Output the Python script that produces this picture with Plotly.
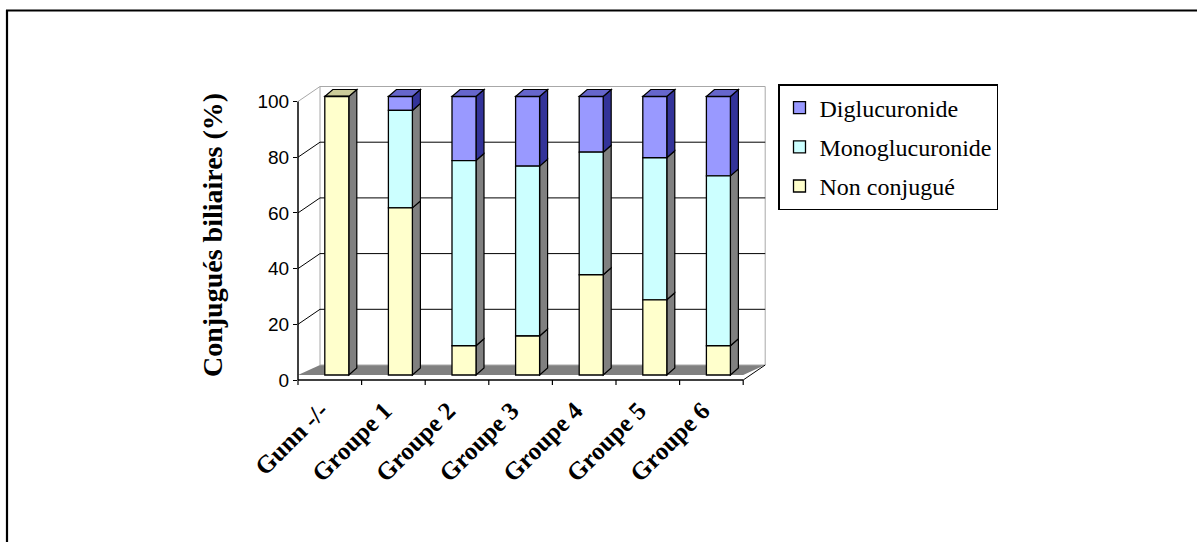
import plotly.graph_objects as go

# ---- data -------------------------------------------------------------
categories = ["Gunn -/-", "Groupe 1", "Groupe 2", "Groupe 3", "Groupe 4", "Groupe 5", "Groupe 6"]
non_conjugue = [100, 60, 10.5, 14, 36, 27, 10.5]
monoglucuronide = [0, 35, 66.5, 61, 44, 51, 61]
diglucuronide = [0, 5, 23, 25, 20, 22, 28.5]
y_ticks = [0, 20, 40, 60, 80, 100]

# series from bottom of the stack to the top: name, values, front, side, top colours
series = [
    ("Non conjugué", non_conjugue, "#FFFFCC", "#808080", "#CCCC99"),
    ("Monoglucuronide", monoglucuronide, "#CCFFFF", "#808080", "#99CCCC"),
    ("Diglucuronide", diglucuronide, "#9999FF", "#333399", "#6666CC"),
]

SERIF = "Liberation Serif, Times New Roman, serif"
SANS = "Liberation Sans, Arial, sans-serif"

# ---- page / plot-area geometry (pixels) -------------------------------
FIG_W, FIG_H = 1197, 542
PLOT_L, PLOT_R, PLOT_T, PLOT_B = 298, 766, 84, 380
CAT_PX = 63.6      # pixels per category on the front axis
PCT_PX = 2.785     # pixels per percent on the front axis

XMIN = -0.5
XMAX = XMIN + (PLOT_R - PLOT_L) / CAT_PX
YMAX = (PLOT_B - PLOT_T) / PCT_PX
N = len(categories)

# pseudo-3D depth, expressed in axis units
WALL_DX, WALL_DY = 22 / CAT_PX, 15 / PCT_PX      # front plane -> back wall
BAR_DX0, BAR_DY0 = 7 / CAT_PX, 5 / PCT_PX        # front plane -> bar faces
BAR_DEPTH_X, BAR_DEPTH_Y = 8 / CAT_PX, 7 / PCT_PX
BAR_W = 24 / CAT_PX


def xp(v):
    """axis x -> paper x"""
    return (v - XMIN) / (XMAX - XMIN)


def yp(v):
    """axis y -> paper y"""
    return v / YMAX


def px_x(p):
    return (p - PLOT_L) / (PLOT_R - PLOT_L)


def px_y(p):
    return (PLOT_B - p) / (PLOT_B - PLOT_T)


def poly(points, fill, line_color="black", line_width=1.0, layer="below"):
    path = "M " + " L ".join(f"{x:.5f},{y:.5f}" for x, y in points) + " Z"
    return dict(type="path", xref="x", yref="y", path=path, fillcolor=fill,
                line=dict(color=line_color, width=line_width), layer=layer)


def seg(x0, y0, x1, y1, color="black", width=1.0, xref="x", yref="y", layer="below"):
    return dict(type="line", xref=xref, yref=yref, x0=x0, y0=y0, x1=x1, y1=y1,
                line=dict(color=color, width=width), layer=layer)


shapes = []
left, right = -0.5, N - 0.5

# floor
shapes.append(poly([(left, BAR_DY0), (left + WALL_DX, WALL_DY),
                    (right + WALL_DX, WALL_DY), (right, BAR_DY0)],
                   "#808080", line_color="rgba(0,0,0,0)", line_width=0))
# back wall
shapes.append(poly([(left + WALL_DX, WALL_DY), (left + WALL_DX, 100 + WALL_DY),
                    (right + WALL_DX, 100 + WALL_DY), (right + WALL_DX, WALL_DY)],
                   "white", line_color="#A8A8A8", line_width=1))
# gridlines on back wall and side wall
for v in y_ticks[1:]:
    col = "#A8A8A8" if v == 100 else "black"
    shapes.append(seg(left, v, left + WALL_DX, v + WALL_DY, color=col))
    if v < 100:
        shapes.append(seg(left + WALL_DX, v + WALL_DY, right + WALL_DX, v + WALL_DY))
# right edge of the floor
shapes.append(seg(right, 0, right + WALL_DX, WALL_DY))

# side and top faces of every bar segment
for i in range(N):
    x1 = i + BAR_DX0 + BAR_W / 2
    x0 = i + BAR_DX0 - BAR_W / 2
    cum = 0.0
    visible = [(s, s[1][i]) for s in series if s[1][i] > 0]
    for k, (s, val) in enumerate(visible):
        lo = cum + BAR_DY0
        hi = cum + val + BAR_DY0
        shapes.append(poly([(x1, lo), (x1 + BAR_DEPTH_X, lo + BAR_DEPTH_Y),
                            (x1 + BAR_DEPTH_X, hi + BAR_DEPTH_Y), (x1, hi)],
                           s[3], line_width=1.2))
        if k == len(visible) - 1:
            shapes.append(poly([(x0, hi), (x0 + BAR_DEPTH_X, hi + BAR_DEPTH_Y),
                                (x1 + BAR_DEPTH_X, hi + BAR_DEPTH_Y), (x1, hi)],
                               s[4], line_width=1.2))
        cum += val

# front axes with their tick marks
shapes.append(seg(0, 0, 0, yp(100), width=1.5, xref="paper", yref="paper", layer="above"))
shapes.append(seg(0, 0, xp(right), 0, width=1.5, xref="paper", yref="paper", layer="above"))
for k in range(N + 1):
    xb = xp(k - 0.5)
    shapes.append(seg(xb, 0, xb, -5 / (PLOT_B - PLOT_T), width=1.2,
                      xref="paper", yref="paper", layer="above"))

# page frame
shapes.append(seg(px_x(6), px_y(10.5), px_x(FIG_W), px_y(10.5), width=2.2,
                  xref="paper", yref="paper", layer="above"))
shapes.append(seg(px_x(7), px_y(10), px_x(7), px_y(FIG_H), width=2.2,
                  xref="paper", yref="paper", layer="above"))

fig = go.Figure()

# front faces of the stacked bars (legend order: top of stack first)
bases = {}
cum = [0.0] * N
for name, vals, front, side, top in series:
    bases[name] = [c + BAR_DY0 for c in cum]
    cum = [c + v for c, v in zip(cum, vals)]

for name, vals, front, side, top in reversed(series):
    fig.add_trace(go.Bar(
        name=name, legendgroup=name,
        x=[i + BAR_DX0 for i in range(N)], y=vals, base=bases[name],
        width=BAR_W, marker=dict(color=front, line=dict(color="black", width=1.3)),
        hoverinfo="skip",
    ))

fig.update_layout(
    width=FIG_W, height=FIG_H,
    margin=dict(l=PLOT_L, r=FIG_W - PLOT_R, t=PLOT_T, b=FIG_H - PLOT_B, autoexpand=False),
    paper_bgcolor="white", plot_bgcolor="white",
    font=dict(family=SERIF, color="black"),
    barmode="overlay",
    showlegend=True,
    legend=dict(
        x=px_x(778), y=px_y(84), xanchor="left", yanchor="top",
        bordercolor="black", borderwidth=1.5, bgcolor="white",
        font=dict(family=SERIF, size=24, color="black"),
        traceorder="grouped", tracegroupgap=5,
    ),
    xaxis=dict(
        range=[XMIN, XMAX], showgrid=False, zeroline=False, showline=False,
        tickmode="array", tickvals=list(range(N)), ticktext=categories,
        tickangle=-45, ticks="", ticklabelstandoff=10, ticklabelshift=-9,
        tickfont=dict(family=SERIF, size=25, color="black", weight="bold"),
        fixedrange=True,
    ),
    yaxis=dict(
        range=[0, YMAX], showgrid=False, zeroline=False, showline=False,
        tickmode="array", tickvals=y_ticks, ticks="outside", ticklen=4,
        tickcolor="black", tickwidth=1.2,
        tickfont=dict(family=SANS, size=19, color="black"),
        fixedrange=True,
    ),
    shapes=shapes,
    annotations=[dict(
        text="Conjugués biliaires (%)", textangle=-90,
        xref="paper", yref="paper", x=px_x(212), y=px_y(235),
        xanchor="center", yanchor="middle", showarrow=False,
        font=dict(family=SERIF, size=28, color="black", weight="bold"),
    )],
)

fig.write_html("out.html")
